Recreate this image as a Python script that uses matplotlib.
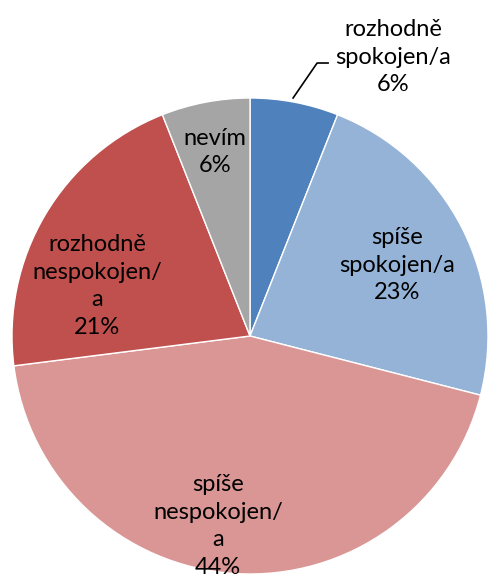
import matplotlib.pyplot as plt

labels = ["rozhodně\nspokojen/a", "spíše\nspokojen/a", "spíše\nnespokojen/\na", "rozhodně\nnespokojen/\na", "nevím"]
values = [6, 23, 44, 21, 6]
colors = ["#4F81BD", "#95B3D7", "#D99694", "#C0504D", "#A5A5A5"]

# label centres, in pie units (radius = 1)
label_pos = [(0.601, 1.172), (0.618, 0.298), (-0.134, -0.798), (-0.643, 0.210), (-0.147, 0.773)]

plt.rcParams["font.family"] = ["Lato", "DejaVu Sans"]

fig = plt.figure(figsize=(4.88, 5.85), dpi=100)
ax = fig.add_axes([0, 0, 1, 1])

ax.pie(
    values,
    colors=colors,
    startangle=90,
    counterclock=False,
    radius=1.0,
    wedgeprops={"edgecolor": "white", "linewidth": 1.0},
)

total = sum(values)
for lab, val, (x, y) in zip(labels, values, label_pos):
    ax.text(x, y, f"{lab}\n{round(100 * val / total)}%", ha="center", va="center",
            fontsize=17, linespacing=1.4, color="black")

# leader line for the small slice
ax.plot([0.181, 0.282, 0.328], [1.0, 1.147, 1.147], color="black", linewidth=1.2)

ax.set_xlim(-250 / 238, 238 / 238)
ax.set_ylim(-249 / 238, 336 / 238)
ax.set_aspect("equal")
ax.axis("off")

plt.savefig("out.png", dpi=100)
